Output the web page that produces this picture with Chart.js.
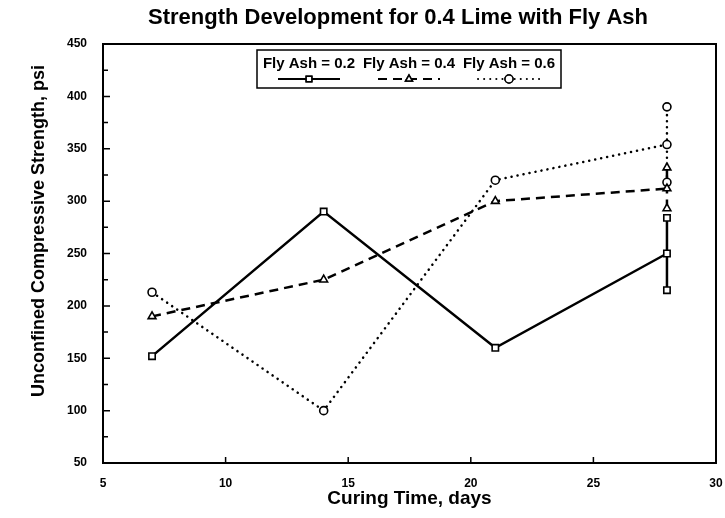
<!DOCTYPE html>
<html>
<head>
<meta charset="utf-8">
<script src="https://cdn.jsdelivr.net/npm/chart.js@4"></script>
<style>
  html, body { margin: 0; padding: 0; background: #fff; }
  #wrap { width: 725px; height: 518px; }
</style>
</head>
<body>
<div id="wrap"><canvas id="strengthChart" width="725" height="518"></canvas></div>
<script>
// data
const curingDays = [7, 14, 21, 28];
const flyAsh02 = [152, 290, 160, 250];
const flyAsh04 = [190, 225, 300, 312];
const flyAsh06 = [213, 100, 320, 354];

// individual specimens at 28 days
const replicateDay = 28;
const flyAsh02Reps = [215, 284];
const flyAsh04Reps = [293, 332];
const flyAsh06Reps = [318, 390];

const seriesLabels = ['Fly Ash = 0.2', 'Fly Ash = 0.4', 'Fly Ash = 0.6'];
const xTicks = [5, 10, 15, 20, 25, 30];
const yTicks = [50, 100, 150, 200, 250, 300, 350, 400, 450];
const yMinorTicks = [75, 125, 175, 225, 275, 325, 375, 425];

const FONT = '"Liberation Sans", Arial, sans-serif';
const styles = [
    { dash: [], cap: 'butt', point: 'rect' },
    { dash: [9, 6], cap: 'butt', point: 'triangle' },
    { dash: [0.1, 6], cap: 'round', point: 'circle' }
];

const toPoints = (xs, ys) => ys.map((y, i) => ({ x: xs[i], y }));
const repPoints = (ys) => ys.map(y => ({ x: replicateDay, y }));

const makeSet = (label, data, s, isMain) => ({
    label,
    data,
    isMain,
    borderColor: '#000',
    borderWidth: 2.5,
    borderDash: s.dash,
    borderCapStyle: s.cap,
    pointStyle: s.point,
    pointRadius: s.point === 'circle' ? 4 : 4.5,
    pointBorderWidth: 1.6,
    pointBorderColor: '#000',
    pointBackgroundColor: '#fff',
    tension: 0,
    fill: false
});

const datasets = [
    makeSet(seriesLabels[0], toPoints(curingDays, flyAsh02), styles[0], true),
    makeSet(seriesLabels[1], toPoints(curingDays, flyAsh04), styles[1], true),
    makeSet(seriesLabels[2], toPoints(curingDays, flyAsh06), styles[2], true),
    makeSet('', repPoints(flyAsh02Reps), styles[0], false),
    makeSet('', repPoints(flyAsh04Reps), styles[1], false),
    makeSet('', repPoints(flyAsh06Reps), styles[2], false)
];

const framePlugin = {
    id: 'frame',
    afterDraw(chart) {
        const { ctx, chartArea: a, scales: { x, y } } = chart;
        ctx.save();
        ctx.strokeStyle = '#000';
        ctx.lineWidth = 2;
        ctx.setLineDash([]);
        ctx.strokeRect(a.left, a.top, a.right - a.left, a.bottom - a.top);

        // inward ticks
        ctx.lineWidth = 1.5;
        ctx.beginPath();
        yTicks.forEach(v => {
            const py = y.getPixelForValue(v);
            ctx.moveTo(a.left, py); ctx.lineTo(a.left + 7, py);
        });
        yMinorTicks.forEach(v => {
            const py = y.getPixelForValue(v);
            ctx.moveTo(a.left, py); ctx.lineTo(a.left + 5, py);
        });
        xTicks.forEach(v => {
            const px = x.getPixelForValue(v);
            ctx.moveTo(px, a.bottom); ctx.lineTo(px, a.bottom - 6);
        });
        ctx.stroke();

        ctx.fillStyle = '#000';
        ctx.textAlign = 'center';
        ctx.textBaseline = 'middle';

        // title
        ctx.font = 'bold 22px ' + FONT;
        ctx.fillText('Strength Development for 0.4 Lime with Fly Ash', 398, 18);

        // y axis title, sits a little above the middle in the original
        ctx.save();
        ctx.translate(39, 231);
        ctx.rotate(-Math.PI / 2);
        ctx.font = 'bold 18px ' + FONT;
        ctx.fillText('Unconfined Compressive Strength, psi', 0, 0);
        ctx.restore();

        // legend box: label on top, line sample below
        const boxL = 257, boxT = 50, boxW = 304, boxH = 38;
        ctx.lineWidth = 1.5;
        ctx.strokeRect(boxL, boxT, boxW, boxH);
        ctx.font = 'bold 15px ' + FONT;
        chart.data.datasets.filter(d => d.isMain).forEach((d, i) => {
            const cx = boxL + 52 + 100 * i;
            ctx.fillStyle = '#000';
            ctx.fillText(d.label, cx, boxT + 14);
            const ly = boxT + 29;
            ctx.save();
            ctx.lineWidth = 2;
            ctx.setLineDash(d.borderDash);
            ctx.lineCap = d.borderCapStyle;
            ctx.beginPath();
            ctx.moveTo(cx - 31, ly); ctx.lineTo(cx + 31, ly);
            ctx.stroke();
            ctx.restore();
            ctx.setLineDash([]);
            ctx.lineWidth = 1.5;
            ctx.fillStyle = '#fff';
            Chart.helpers.drawPoint(ctx, {
                pointStyle: d.pointStyle, radius: 4, rotation: 0, borderWidth: 1.5
            }, cx, ly);
            ctx.fill();
            ctx.stroke();
        });
        ctx.restore();
    }
};

new Chart(document.getElementById('strengthChart'), {
    type: 'line',
    data: { datasets },
    options: {
        responsive: false,
        animation: false,
        layout: { padding: { top: 44, right: 9, bottom: 0, left: 0 } },
        plugins: {
            legend: { display: false },
            title: { display: false },
            tooltip: { enabled: false }
        },
        scales: {
            x: {
                type: 'linear',
                min: 5,
                max: 30,
                afterBuildTicks: (s) => { s.ticks = xTicks.map(v => ({ value: v })); },
                afterFit: (s) => {
                    s.height = 55;
                    s.paddingLeft = 0;
                    s.paddingRight = 0;
                },
                grid: { display: false },
                border: { display: false },
                ticks: {
                    color: '#000',
                    padding: 5,
                    maxRotation: 0,
                    font: { family: FONT, size: 12, weight: 'bold' }
                },
                title: {
                    display: true,
                    text: 'Curing Time, days',
                    color: '#000',
                    padding: { top: 0, bottom: 8 },
                    font: { family: FONT, size: 19, weight: 'bold' }
                }
            },
            y: {
                type: 'linear',
                min: 50,
                max: 450,
                afterBuildTicks: (s) => { s.ticks = yTicks.map(v => ({ value: v })); },
                afterFit: (s) => { s.width = 103; },
                grid: { display: false },
                border: { display: false },
                ticks: {
                    color: '#000',
                    padding: 8,
                    font: { family: FONT, size: 12, weight: 'bold' }
                }
            }
        }
    },
    plugins: [framePlugin]
});
</script>
</body>
</html>
